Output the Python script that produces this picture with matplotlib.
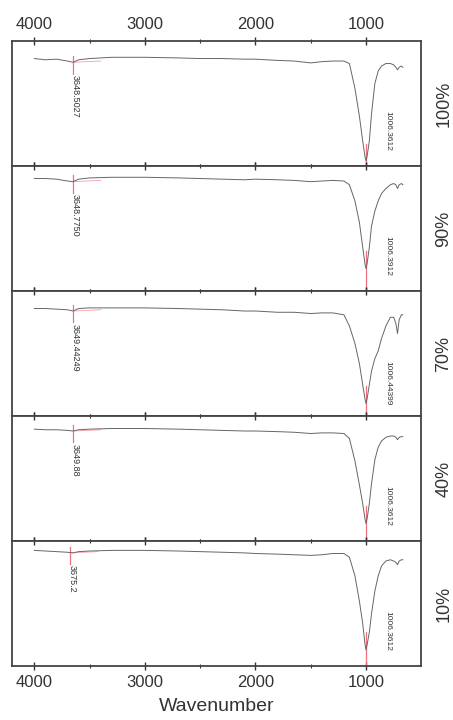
import numpy as np
import matplotlib
matplotlib.use("Agg")
from matplotlib import pyplot as plt

plt.rcParams['font.family'] = ['Liberation Sans', 'DejaVu Sans']

# wavenumber points (cm-1)
wn = [4000, 3900, 3800, 3700, 3650, 3600, 3500, 3300, 3000, 2700, 2500, 2300,
      2100, 2000, 1800, 1650, 1500, 1400, 1300, 1200, 1150, 1100, 1060, 1030,
      1010, 1000, 990, 970, 950, 920, 890, 860, 820, 780, 750, 730, 715, 700,
      680, 667]

t100 = [86, 85, 85.5, 84, 83, 85, 86, 87, 87, 86.5, 86, 86, 85.5, 85.5, 84.5,
        84, 82.5, 83.5, 84, 84, 82, 62, 40, 20, 8, 4, 8, 20, 42, 66, 76, 80,
        82, 82, 81, 79, 77, 79, 80, 79]
t90 = [90, 90, 89.5, 88, 87.5, 89.5, 90.5, 91, 91, 90.5, 90, 89.5, 89, 89.5,
       89, 88.5, 87.5, 88, 88.5, 88, 85, 72, 55, 35, 22, 18, 22, 35, 52, 64,
       72, 78, 82, 85, 86, 85, 82, 85, 86, 85]
t70 = [86, 86, 85.5, 85, 84, 86, 86.5, 86.5, 86.5, 86, 85.5, 85, 84, 84, 83,
       83, 82, 82.5, 82.5, 81, 72, 58, 42, 25, 14, 10, 14, 25, 36, 46, 52, 62,
       72, 79, 79, 74, 66, 77, 81, 81]
t40 = [89.5, 89, 89, 88.5, 88, 89, 89.5, 90, 90, 89.5, 89, 88.5, 88, 88, 87.5,
       87, 86, 86.5, 86.5, 86, 82, 64, 45, 30, 18, 14, 18, 30, 46, 65, 75, 80,
       83, 84, 84, 83, 81, 83, 83.5, 83.5]
t10 = [92.5, 92, 91.5, 91, 90.5, 91.5, 92, 92.5, 92.5, 92, 91.5, 91, 90.5, 90,
       89.5, 89, 88.5, 89, 90, 90, 87, 72, 52, 34, 18, 13, 17, 27, 42, 60, 72,
       80, 84, 85, 84, 83, 81, 84, 85, 85]

series = [t100, t90, t70, t40, t10]
labels = ['100%', '90%', '70%', '40%', '10%']
oh_peak = [3648, 3648, 3649, 3649, 3675]
oh_text = ['3648.5027', '3648.7750', '3649.44249', '3649.88', '3675.2']
so_peak = [1000, 1000, 1000, 1000, 1000]
so_text = ['1006.3612', '1006.3912', '1006.44399', '1006.3612', '1006.3612']

fig = plt.figure(figsize=(4.53, 7.2), dpi=100)
gs = fig.add_gridspec(5, 1, left=0.027, right=0.93, top=0.943, bottom=0.075,
                      hspace=0)
axes = [fig.add_subplot(gs[i]) for i in range(5)]

for i, ax in enumerate(axes):
    t = series[i]
    ax.plot(wn, t, color='#666666', lw=0.7, zorder=3)
    ax.set_xlim(4200, 500)
    ax.set_ylim(0, 100)
    ax.set_yticks([])
    ax.set_xticks([4000, 3000, 2000, 1000])
    ax.set_xticks([3500, 2500, 1500], minor=True)
    ax.tick_params(axis='x', which='major', direction='inout', length=6,
                   width=1, color='#333333', top=True, bottom=True,
                   labelsize=12, labelcolor='#333333')
    ax.tick_params(axis='x', which='minor', direction='inout', length=3,
                   width=0.8, color='#333333', top=True, bottom=True)
    ax.tick_params(axis='x', labelbottom=(i == 4), labeltop=(i == 0))
    for s in ax.spines.values():
        s.set_color('#444444')
        s.set_linewidth(1.3)

    # O-H peak marker
    y0 = t[wn.index(3650)]
    ax.plot([oh_peak[i], oh_peak[i]], [y0 - 9, y0 + 5], color='#f07080',
            lw=0.9, zorder=2)
    ax.plot([oh_peak[i], oh_peak[i] - 250], [y0, y0 + 1], color='#f5a0aa',
            lw=0.6, zorder=2)
    ax.text(oh_peak[i] - 20, y0 - 10, oh_text[i], rotation=270, ha='center',
            va='top', fontsize=6.5, color='#333333')
    # main band marker
    ymin = t[wn.index(1000)]
    ax.plot([so_peak[i], so_peak[i]], [0, ymin + 14], color='#f07080',
            lw=0.9, zorder=2)
    ax.text(800, 44, so_text[i], rotation=270, ha='center', va='top',
            fontsize=6, color='#333333')

    ax.text(1.055, 0.5, labels[i], transform=ax.transAxes, rotation=90,
            ha='center', va='center', fontsize=13, color='#333333')

axes[4].set_xlabel('Wavenumber', fontsize=14, color='#333333', labelpad=6)

fig.savefig('out.png', dpi=100)
